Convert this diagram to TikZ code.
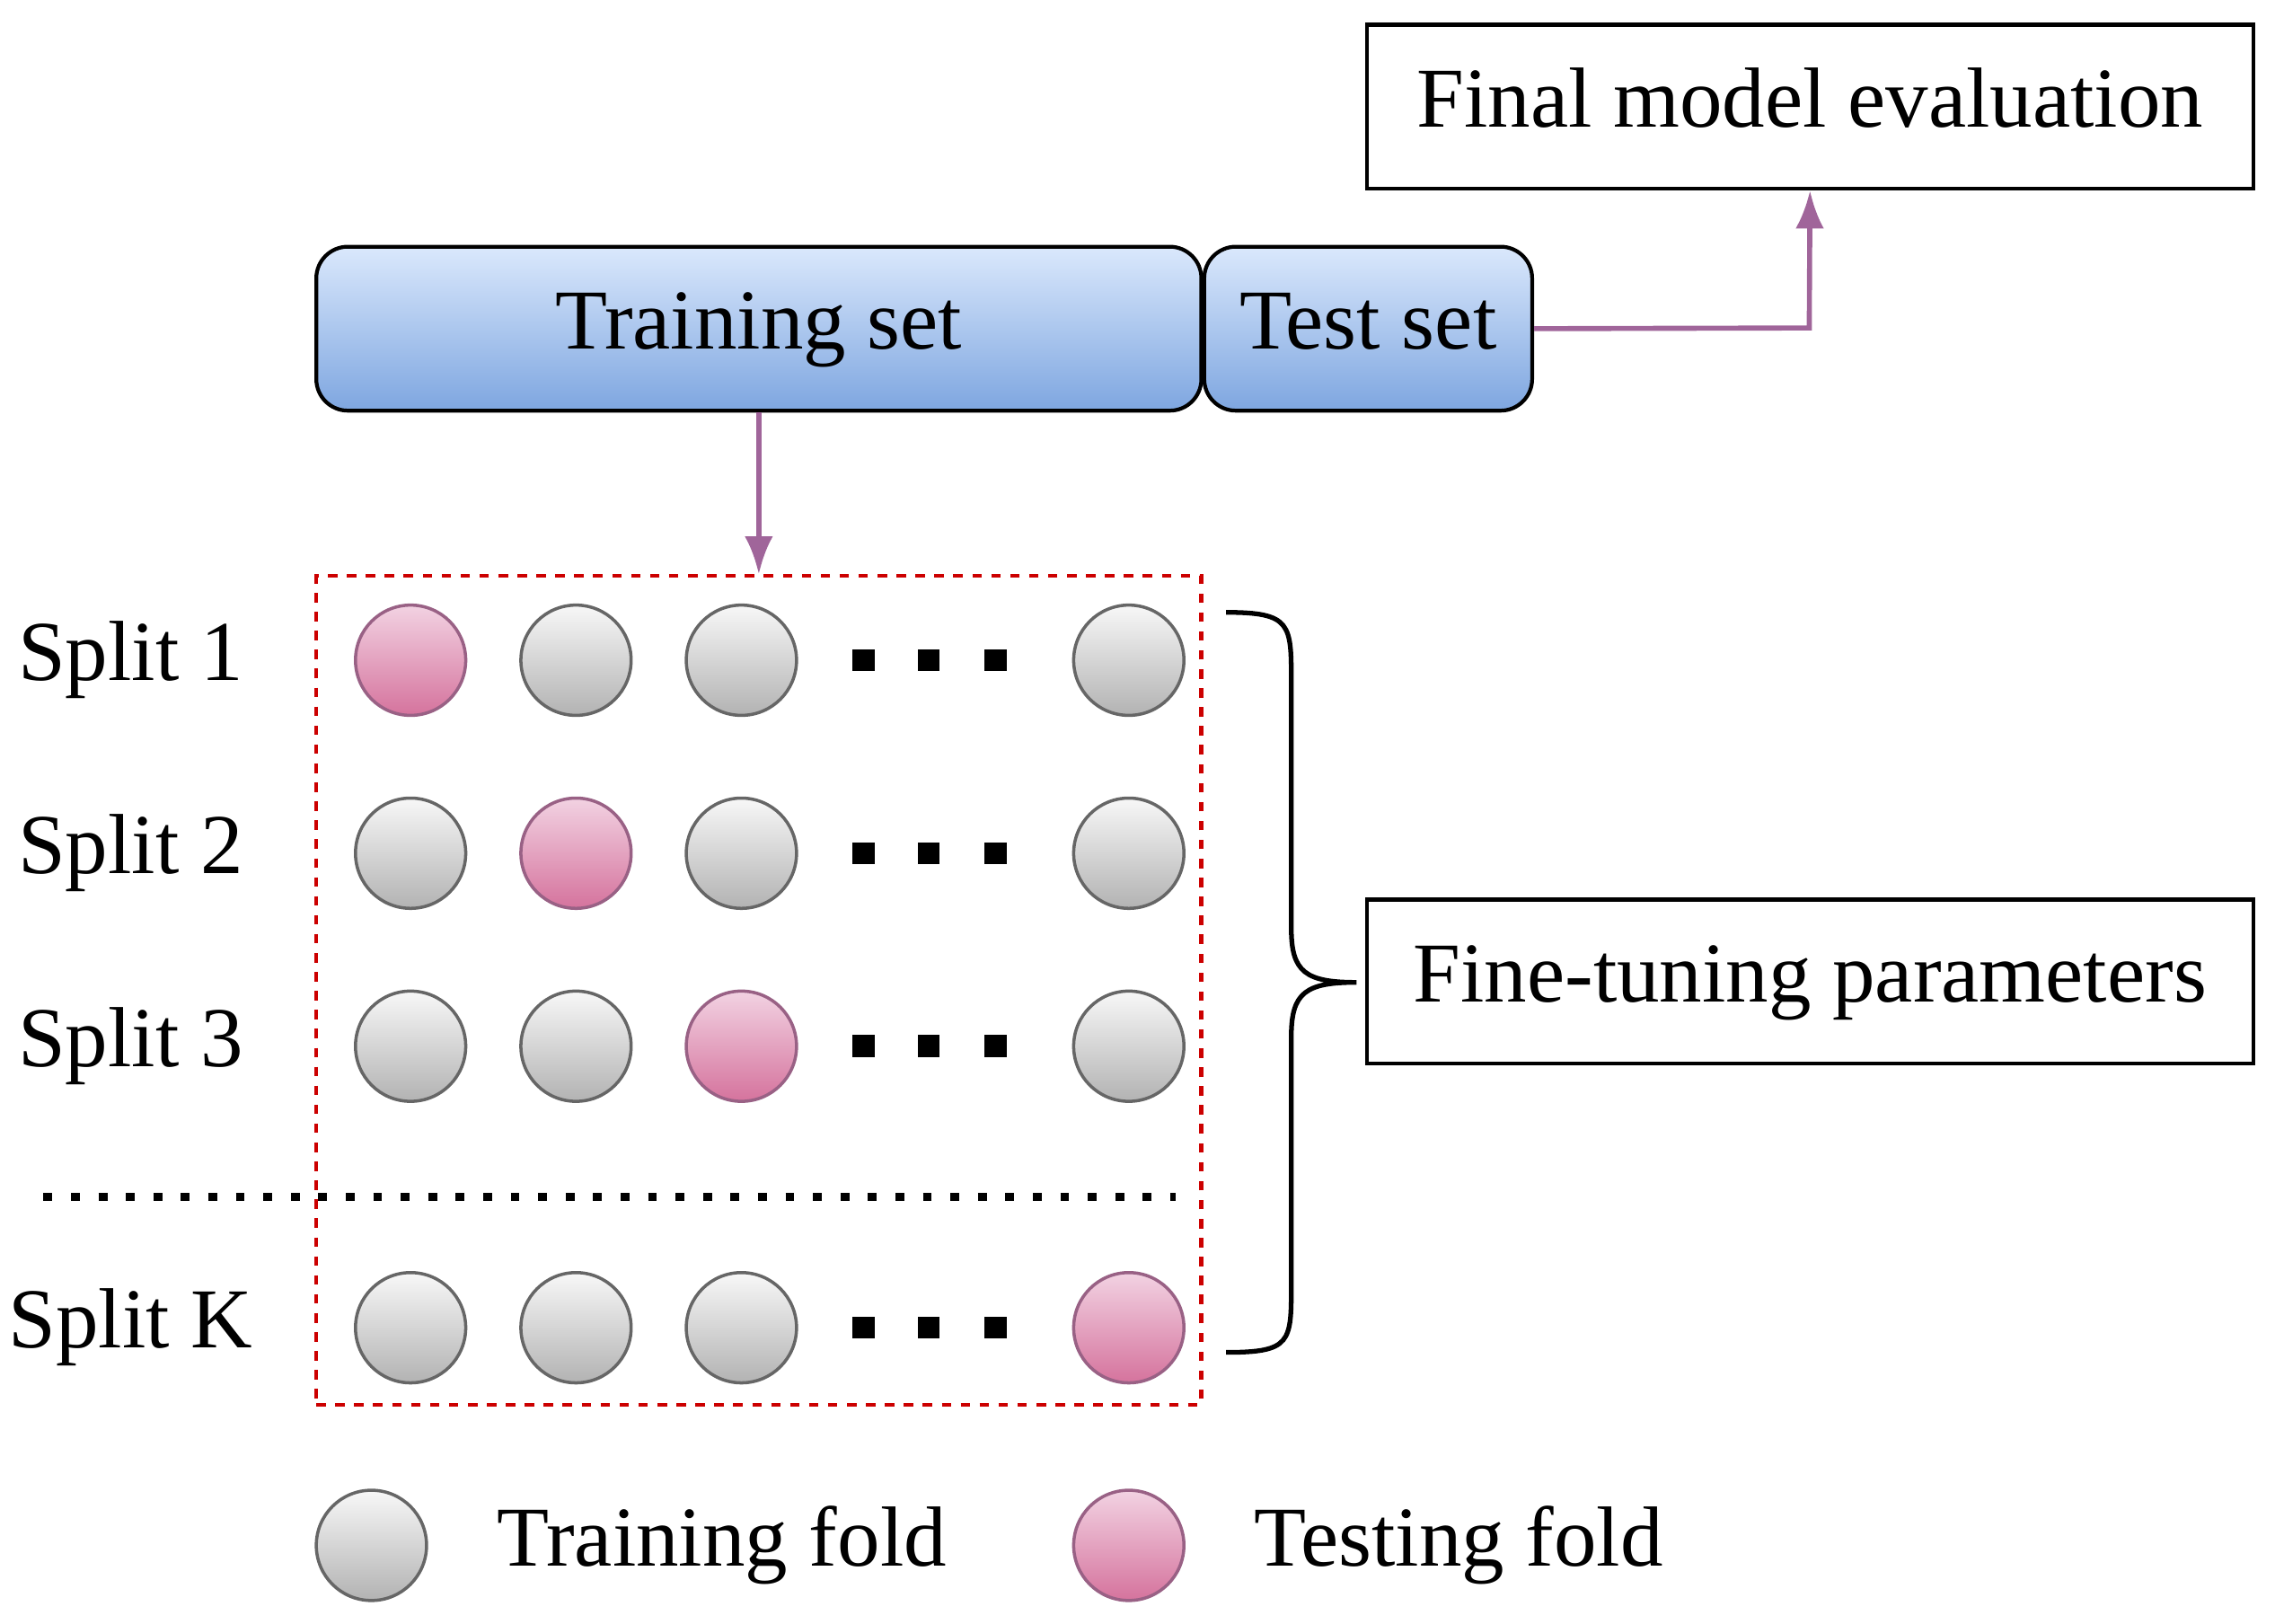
\documentclass[tikz,border=0pt]{standalone}
\usepackage{fontspec}
\setmainfont{Liberation Serif}
\usetikzlibrary{arrows.meta}
\definecolor{bt}{HTML}{DAE8FC}
\definecolor{bb}{HTML}{7EA6E0}
\definecolor{pt}{HTML}{F2D2E2}
\definecolor{pb}{HTML}{D5739D}
\definecolor{pd}{HTML}{996185}
\definecolor{ac}{HTML}{A0659A}
\begin{document}
\begin{tikzpicture}[x=0.01615cm,y=-0.01615cm,
  txt/.style={font=\fontsize{27}{32}\selectfont},
  box/.style={draw,line width=1.2pt,txt,text height=19pt,text depth=6pt},
  blue/.style={draw,line width=1.2pt,rounded corners=10pt,top color=bt,bottom color=bb,txt,text height=19pt,text depth=6pt},
  gc/.style={circle,draw=black!60,line width=1pt,top color=black!3,bottom color=black!30,inner sep=0pt},
  pc/.style={circle,draw=pd,line width=1pt,top color=pt,bottom color=pb,inner sep=0pt},
  arr/.style={draw=ac,line width=1.6pt,-{Latex[length=12pt,width=9pt]}},
  dsq/.style={fill=black,minimum size=7pt,inner sep=0pt}]
\useasboundingbox (0,0) rectangle (1568,1119);
\def\R{38}
\node[box,minimum width=611*0.01615cm,minimum height=113*0.01615cm] (fme) at (1247.5,73.5) {Final model evaluation};
\node[blue,minimum width=610*0.01615cm,minimum height=113*0.01615cm] (tr) at (523,226.5) {Training set};
\node[blue,minimum width=226*0.01615cm,minimum height=113*0.01615cm] (te) at (943,226.5) {Test set};
\coordinate (c1) at (1247,226);
\draw[arr] (te.east) -- (c1) -- (fme.south);
\node[draw=red!80!black,dashed,line width=1.2pt,minimum width=610*0.01615cm,minimum height=571*0.01615cm] (dbox) at (523,682.5) {};
\draw[arr] (tr.south) -- (dbox.north);
\foreach \y/\lab/\p in {455/1/1,588/2/2,721/3/3,915/K/4}{
  \node[txt] (lab\lab) at (90,\y) {Split \lab};
  \foreach \x [count=\i] in {283,397,511,778}{
    \ifnum\i=\p \node[pc,minimum size=2*\R*0.01615cm] (n\lab\i) at (\x,\y) {};
    \else \node[gc,minimum size=2*\R*0.01615cm] (n\lab\i) at (\x,\y) {};\fi
  }
  \foreach \x [count=\j] in {595,640,686}{\node[dsq] (d\lab\j) at (\x,\y) {};}
}
\coordinate (l1) at (30,825); \coordinate (l2) at (810,825);
\draw[line width=2.5pt,dash pattern=on 2.8pt off 5.9pt] (l1) -- (l2);
\node[box,minimum width=611*0.01615cm,minimum height=113*0.01615cm] (ftp) at (1247.5,676.5) {Fine-tuning parameters};
\coordinate (b1) at (845,422); \coordinate (b2) at (845,932); \coordinate (bt) at (935,677);
\draw[line width=1.5pt] (b1) .. controls (890,422) and (890,430) .. (890,470) -- (890,640)
  .. controls (890,670) and (900,677) .. (bt) .. controls (900,677) and (890,684) .. (890,714) -- (890,885)
  .. controls (890,925) and (890,932) .. (b2);
\node[gc,minimum size=2*\R*0.01615cm] (lg1) at (256,1065) {};
\node[txt,anchor=west] (lt1) at (335,1065) {Training fold};
\node[pc,minimum size=2*\R*0.01615cm] (lg2) at (778,1065) {};
\node[txt,anchor=west] (lt2) at (857,1065) {Testing fold};
\end{tikzpicture}
\end{document}
